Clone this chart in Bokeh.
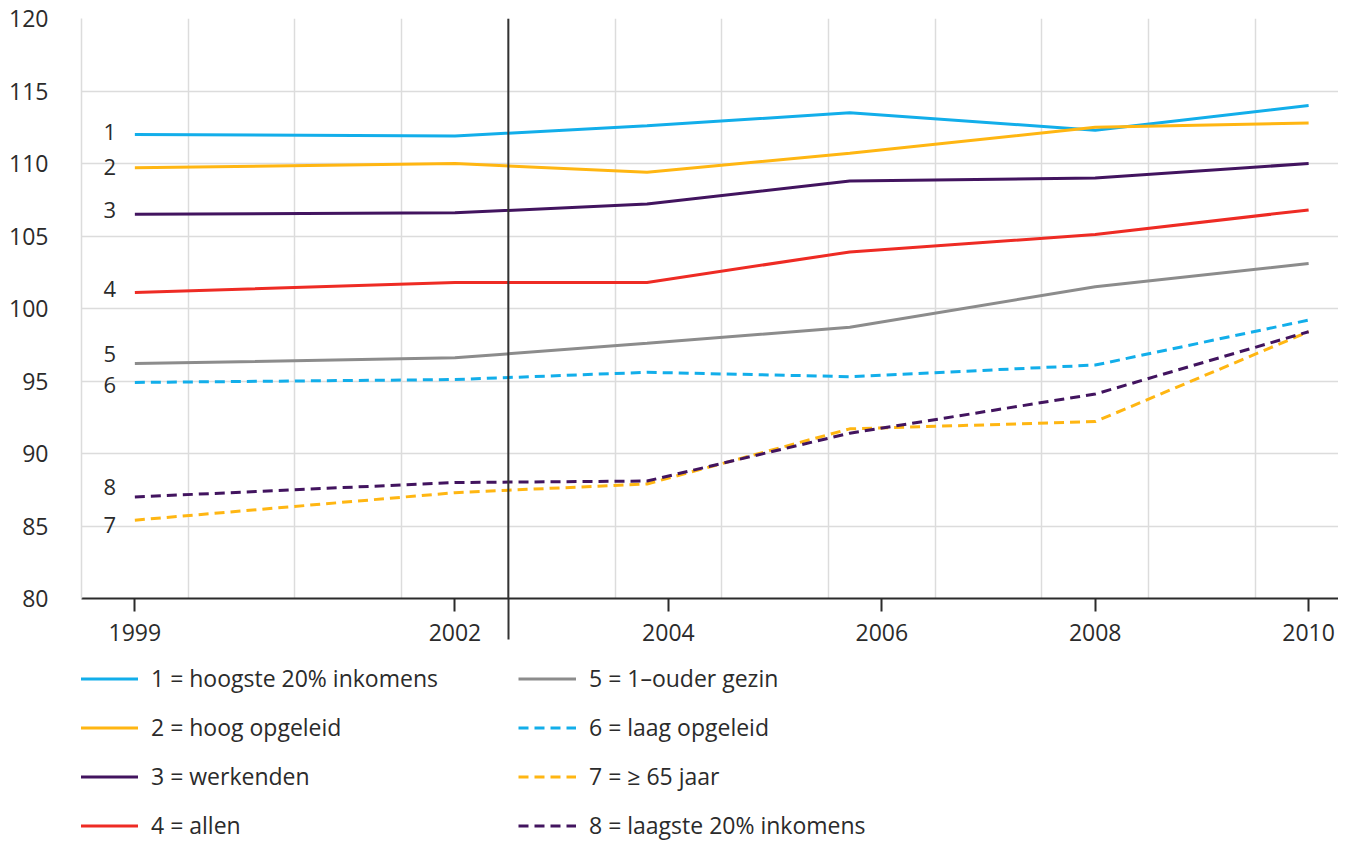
from bokeh.plotting import figure
from bokeh.models import Range1d, FixedTicker, Legend, LegendItem, Span, ColumnDataSource
from bokeh.layouts import column
from bokeh.embed import file_html
from bokeh.resources import INLINE
from bokeh.core.properties import value

# ---- data ----
years = [1999, 2002, 2003.8, 2005.7, 2008, 2010]
hoogste_20 = [112.0, 111.9, 112.6, 113.5, 112.3, 114.0]
hoog_opgeleid = [109.7, 110.0, 109.4, 110.7, 112.5, 112.8]
werkenden = [106.5, 106.6, 107.2, 108.8, 109.0, 110.0]
allen = [101.1, 101.8, 101.8, 103.9, 105.1, 106.8]
ouder_gezin = [96.2, 96.6, 97.6, 98.7, 101.5, 103.1]
laag_opgeleid = [94.9, 95.1, 95.6, 95.3, 96.1, 99.2]
ouderen_65 = [85.4, 87.3, 87.9, 91.7, 92.2, 98.4]
laagste_20 = [87.0, 88.0, 88.1, 91.4, 94.1, 98.4]

tick_years = [1999, 2002, 2004, 2006, 2008, 2010]
y_ticks = [80, 85, 90, 95, 100, 105, 110, 115, 120]
break_year = 2002.5

numbers = ["1", "2", "3", "4", "5", "6", "7", "8"]
legend_labels = [
    "1 = hoogste 20% inkomens",
    "2 = hoog opgeleid",
    "3 = werkenden",
    "4 = allen",
    "5 = 1\u2013ouder gezin",
    "6 = laag opgeleid",
    "7 = \u2265 65 jaar",
    "8 = laagste 20% inkomens",
]
series = [hoogste_20, hoog_opgeleid, werkenden, allen,
          ouder_gezin, laag_opgeleid, ouderen_65, laagste_20]

# ---- styles ----
colors = ["#12aeea", "#ffb612", "#42145f", "#ee2b24",
          "#8c8c8c", "#12aeea", "#ffb612", "#42145f"]
dashes = ["solid"] * 5 + ["10 6"] * 3
label_dy = [-3, -1, -4, -4, -10, 3, 5, -10]
FONT = "Open Sans"
TXT = "#2b2b2b"
GRID = "#dcdcdc"
W = 1338

p = figure(width=W, height=660, output_backend="svg", toolbar_location=None,
           x_range=Range1d(1998.5, 2010.28), y_range=Range1d(80, 120),
           min_border_left=81, min_border_right=0, min_border_top=18,
           min_border_bottom=62)
p.outline_line_color = None
p.background_fill_color = "white"

# axes
p.xaxis.ticker = FixedTicker(ticks=tick_years, minor_ticks=[break_year])
p.xaxis.axis_line_color = TXT
p.xaxis.axis_line_width = 2
p.xaxis.major_tick_line_color = TXT
p.xaxis.major_tick_line_width = 2
p.xaxis.major_tick_out = 13
p.xaxis.major_tick_in = 0
p.xaxis.minor_tick_line_color = "#333333"
p.xaxis.minor_tick_line_width = 2
p.xaxis.minor_tick_out = 41
p.xaxis.minor_tick_in = 0
p.xaxis.major_label_standoff = -16
p.xaxis.major_label_text_font = FONT
p.xaxis.major_label_text_font_size = "23px"
p.xaxis.major_label_text_color = TXT

p.yaxis.ticker = FixedTicker(ticks=y_ticks)
p.yaxis.axis_line_color = GRID
p.yaxis.axis_line_width = 1.5
p.yaxis.major_tick_line_color = None
p.yaxis.minor_tick_line_color = None
p.yaxis.major_label_standoff = 27
p.yaxis.major_label_text_font = FONT
p.yaxis.major_label_text_font_size = "23px"
p.yaxis.major_label_text_color = TXT

# grid
p.xgrid.ticker = FixedTicker(ticks=[y + 0.5 for y in range(1998, 2011)])
p.xgrid.grid_line_color = GRID
p.xgrid.grid_line_width = 1.5
p.ygrid.ticker = FixedTicker(ticks=y_ticks)
p.ygrid.grid_line_color = GRID
p.ygrid.grid_line_width = 1.5

# break line
p.add_layout(Span(location=break_year, dimension="height",
                  line_color="#333333", line_width=2))

for s, c, d in zip(series, colors, dashes):
    p.line(years, s, line_color=c, line_width=3, line_dash=d)

# number labels
src = ColumnDataSource(dict(x=[years[0]] * 8, y=[s[0] for s in series],
                            t=numbers, dy=label_dy))
p.text(x="x", y="y", text="t", source=src, x_offset=-25, y_offset="dy",
       text_align="center", text_baseline="middle",
       text_font=value(FONT), text_font_size="22px", text_color=TXT)

# ---- legend panel (same series, drawn outside its view; only the legend shows) ----
lg = figure(width=W, height=182, output_backend="svg", toolbar_location=None,
            x_range=Range1d(1998.5, 2010.28), y_range=Range1d(0, 1),
            x_axis_location=None, y_axis_location=None,
            min_border=0)
lg.outline_line_color = None
lg.grid.visible = False

leg_renderers = [lg.line(years, s, line_color=c, line_width=3, line_dash=d)
                 for s, c, d in zip(series, colors, dashes)]

def make_legend(idx, loc):
    leg = Legend(items=[LegendItem(label=legend_labels[i], renderers=[leg_renderers[i]]) for i in idx],
                 location=loc)
    leg.label_text_font = FONT
    leg.label_text_font_size = "23px"
    leg.label_text_color = TXT
    leg.glyph_width = 58
    leg.glyph_height = 31
    leg.label_height = 31
    leg.spacing = 17
    leg.label_standoff = 13
    leg.padding = 0
    leg.margin = 0
    leg.border_line_color = None
    leg.background_fill_alpha = 0
    return leg

lg.add_layout(make_legend([0, 1, 2, 3], (-1, 1)))
lg.add_layout(make_legend([4, 5, 6, 7], (437, 1)))

layout = column(p, lg, spacing=0)
open("out.html", "w").write(file_html(layout, INLINE))
